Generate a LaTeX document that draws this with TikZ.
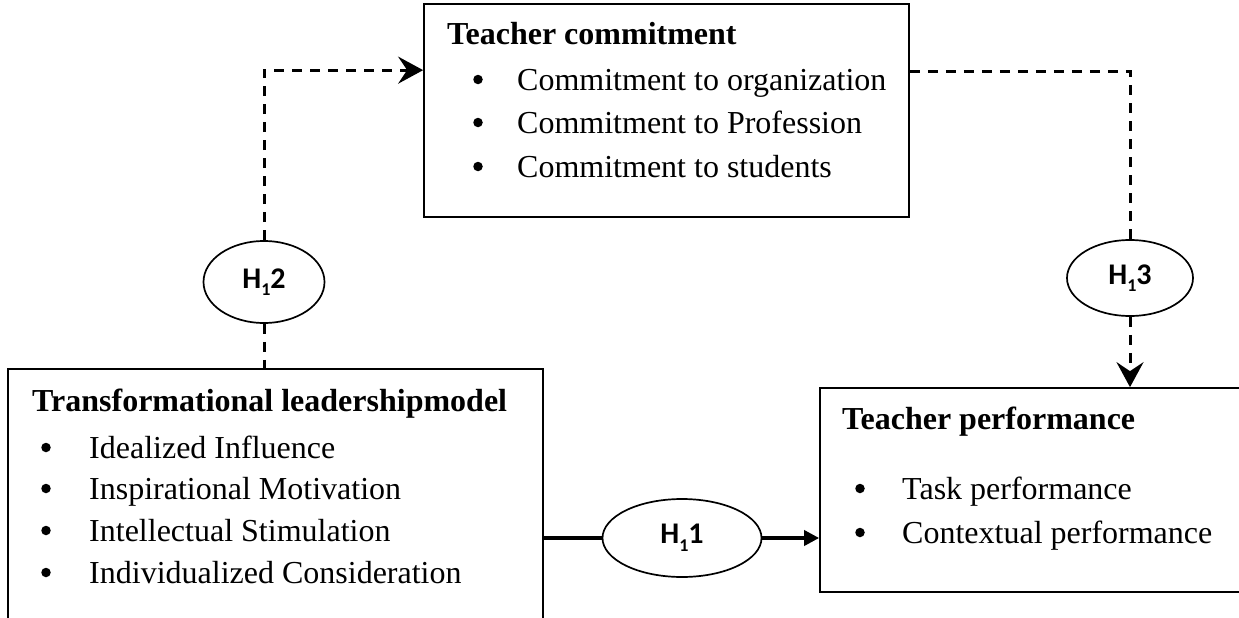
\documentclass[tikz,border=0pt]{standalone}
\usepackage{fontspec}
\setmainfont{Liberation Serif}
\newfontfamily\hfont{Carlito}
\usetikzlibrary{arrows.meta,shapes.geometric}
\begin{document}
\begin{tikzpicture}[x=1pt,y=-1pt,
  boxnode/.style={draw, line width=1.7pt, rectangle, inner sep=0pt},
  hyp/.style={draw, line width=1.7pt, ellipse, inner sep=0pt, font=\hfont\bfseries\fontsize{30}{32}\selectfont},
  title/.style={anchor=base west, inner sep=0pt, font=\bfseries\fontsize{32}{38}\selectfont},
  item/.style={anchor=base west, inner sep=0pt, font=\fontsize{32}{38}\selectfont},
  bul/.style={circle, fill, inner sep=0pt, minimum size=9.5pt, yshift=10.5pt},
  dsh/.style={line width=3pt, dash pattern=on 10pt off 8pt},
  bigtip/.style={-{Stealth[length=25pt,width=27pt,inset=9pt]}}
]
\useasboundingbox (0,0) rectangle (1239,618);
\clip (0,0) rectangle (1239,618);

% boxes
\node[boxnode, minimum width=485pt, minimum height=213pt] (tc) at (666.5,110.5) {};
\node[boxnode, minimum width=535pt, minimum height=291pt] (tl) at (275.5,514.5) {};
\node[boxnode, minimum width=440pt, minimum height=204pt] (tp) at (1040,490) {};

% top box text
\node[title] (tct) at (447,45) {Teacher commitment};
\node[bul] (tcb1) at (478,90) {};
\node[bul] (tcb2) at (478,133) {};
\node[bul] (tcb3) at (478,177) {};
\node[item] (tci1) at (517,90) {Commitment to organization};
\node[item] (tci2) at (517,133) {Commitment to Profession};
\node[item] (tci3) at (517,177) {Commitment to students};

% left box text
\node[title] (tlt) at (32,411) {Transformational leadershipmodel};
\node[bul] (tlb1) at (46,458) {};
\node[bul] (tlb2) at (46,499) {};
\node[bul] (tlb3) at (46,541) {};
\node[bul] (tlb4) at (46,583) {};
\node[item] (tli1) at (89,458) {Idealized Influence};
\node[item] (tli2) at (89,499) {Inspirational Motivation};
\node[item] (tli3) at (89,541) {Intellectual Stimulation};
\node[item] (tli4) at (89,583) {Individualized Consideration};

% right box text
\node[title] (tpt) at (842,429) {Teacher performance};
\node[bul] (tpb1) at (860,499) {};
\node[bul] (tpb2) at (860,543) {};
\node[item] (tpi1) at (902,499) {Task performance};
\node[item] (tpi2) at (902,543) {Contextual performance};

% hypotheses
\node[hyp, minimum width=121pt, minimum height=82pt] (h12) at (264,282) {H\raisebox{-0.25em}{\fontsize{18}{18}\selectfont 1}2};
\node[hyp, minimum width=126pt, minimum height=76pt] (h13) at (1130,278) {H\raisebox{-0.25em}{\fontsize{18}{18}\selectfont 1}3};
\node[hyp, minimum width=159pt, minimum height=78pt] (h11) at (682,538) {H\raisebox{-0.25em}{\fontsize{18}{18}\selectfont 1}1};

% connectors
\draw[dsh] (h12.south) -- (h12.south |- tl.north);
\draw[dsh, bigtip] (h12.north) |- ([yshift=-67pt]tc.north west);
\draw[dsh] ([yshift=-68pt]tc.north east) -| (h13.north);
\draw[dsh, bigtip] (h13.south) -- (h13.south |- tp.north);
\draw[line width=3.6pt] (tl.east |- h11.west) -- (h11.west);
\draw[line width=3.6pt, -{Triangle[length=15pt,width=15pt]}] (h11.east) -- (h11.east -| tp.west);
\end{tikzpicture}
\end{document}
